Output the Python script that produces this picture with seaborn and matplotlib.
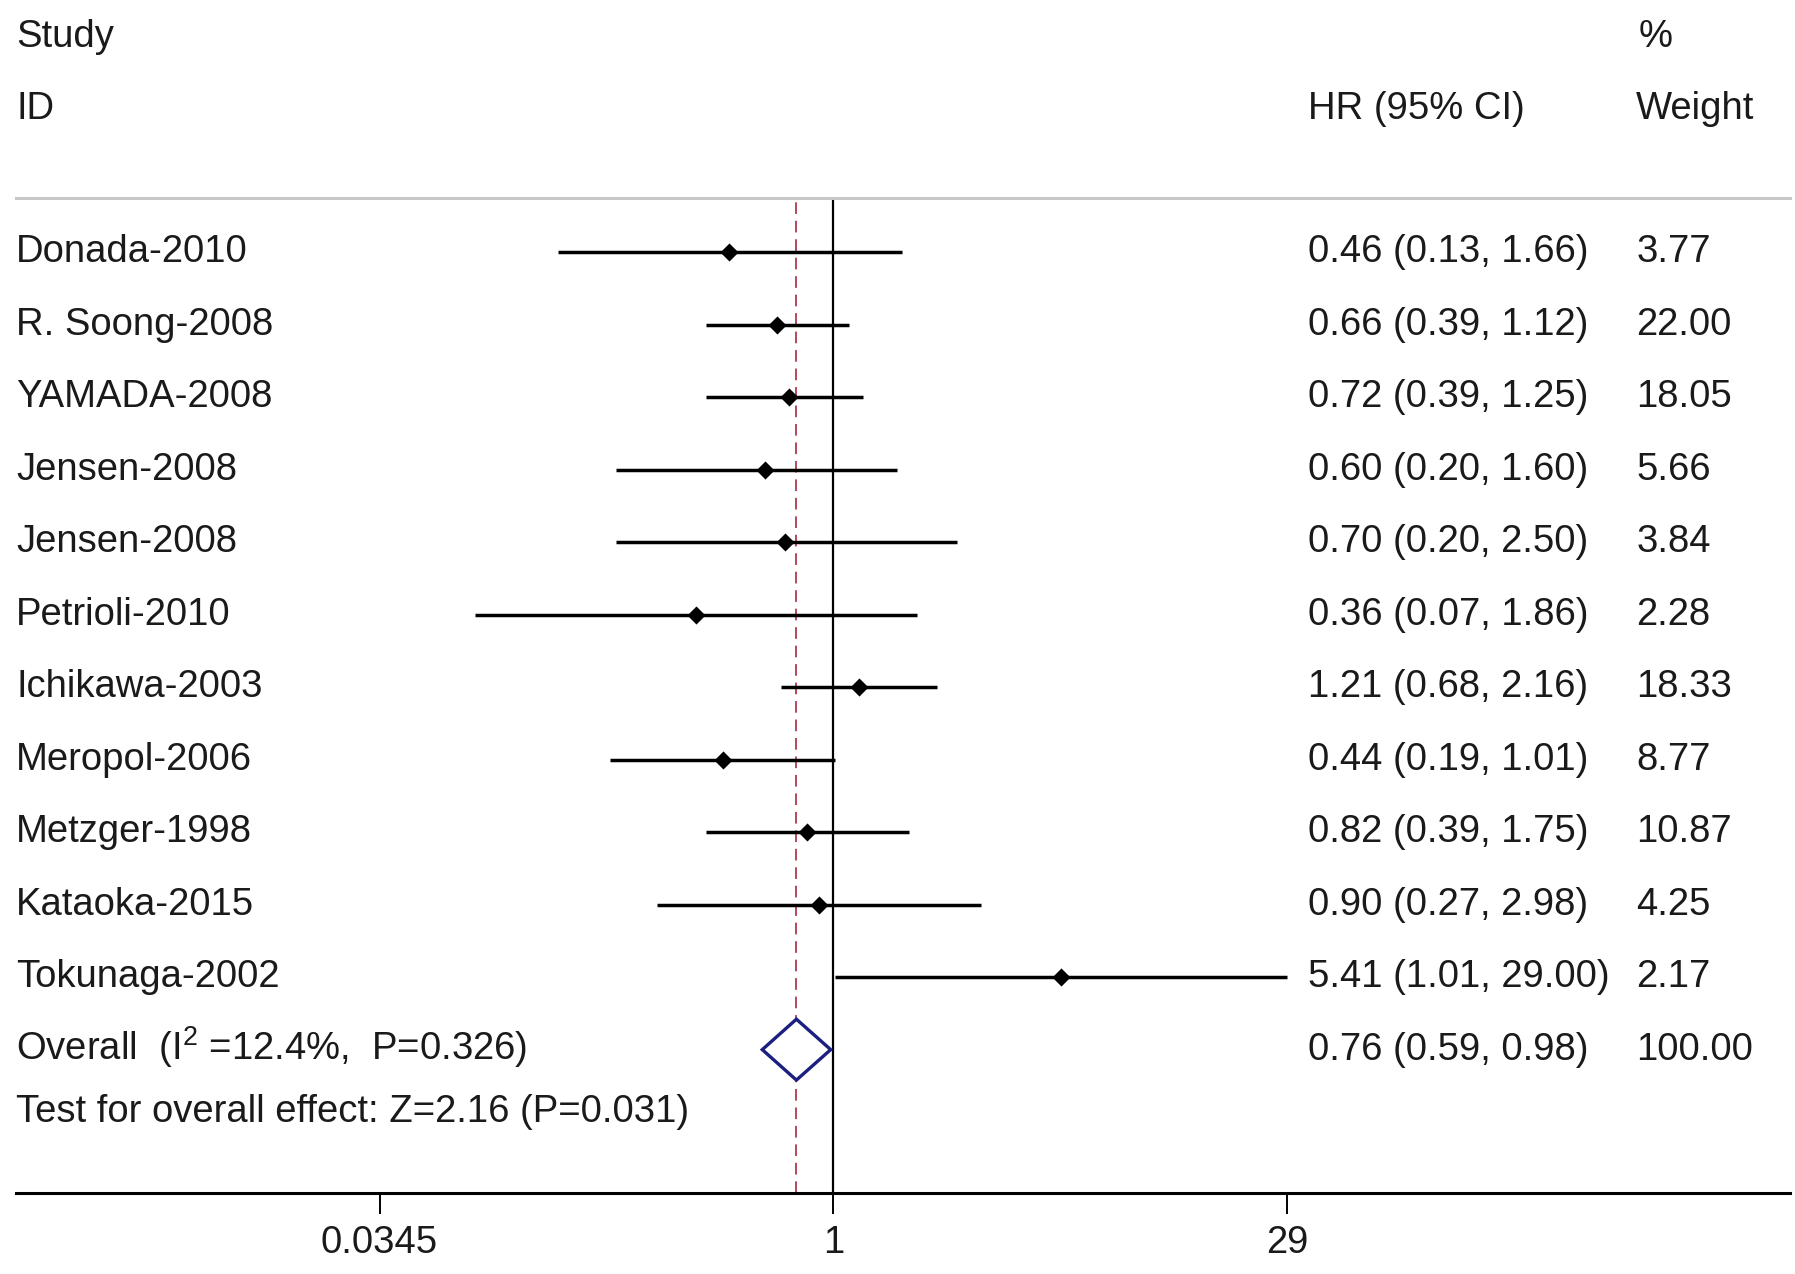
import numpy as np
import pandas as pd
import matplotlib
matplotlib.use("Agg")
import matplotlib.pyplot as plt
import seaborn as sns

# Study-level hazard ratios
studies = ["Donada-2010", "R. Soong-2008", "YAMADA-2008", "Jensen-2008", "Jensen-2008",
           "Petrioli-2010", "Ichikawa-2003", "Meropol-2006", "Metzger-1998",
           "Kataoka-2015", "Tokunaga-2002"]
hr = [0.46, 0.66, 0.72, 0.60, 0.70, 0.36, 1.21, 0.44, 0.82, 0.90, 5.41]
ci_low = [0.13, 0.39, 0.39, 0.20, 0.20, 0.07, 0.68, 0.19, 0.39, 0.27, 1.01]
ci_high = [1.66, 1.12, 1.25, 1.60, 2.50, 1.86, 2.16, 1.01, 1.75, 2.98, 29.00]
weights = ["3.77", "22.00", "18.05", "5.66", "3.84", "2.28", "18.33", "8.77",
           "10.87", "4.25", "2.17"]

# Pooled estimate
overall_hr = 0.76
overall_low = 0.59
overall_high = 0.98
overall_weight = "100.00"
overall_label = r"Overall  (I$^{2}$ =12.4%,  P=0.326)"
test_label = "Test for overall effect: Z=2.16 (P=0.031)"

tick_values = [0.0345, 1, 29]
tick_labels = ["0.0345", "1", "29"]

df = pd.DataFrame({"study": studies, "hr": hr, "low": ci_low, "high": ci_high,
                   "weight": weights})
df["row"] = np.arange(1, len(df) + 1)
overall_row = len(df) + 1

sns.set_theme(style="white")
plt.rcParams["font.family"] = ["Liberation Sans", "DejaVu Sans"]
plt.rcParams["mathtext.fontset"] = "custom"
plt.rcParams["mathtext.rm"] = "Liberation Sans"
plt.rcParams["mathtext.it"] = "Liberation Sans"
plt.rcParams["mathtext.default"] = "rm"
txt_color = "#1a1a1a"
fs = 27.5

fig = plt.figure(figsize=(17.95, 12.74), dpi=100)
ax = fig.add_axes([0.009, 0.0632, 0.988, 0.7814])
ax.set_xscale("log")
ax.set_xlim(0.00233, 1203)
ax.set_ylim(13.984, 0.254)

# confidence intervals
ax.hlines(df["row"], df["low"], df["high"], color="black", lw=2.5, zorder=2)
sns.scatterplot(data=df, x="hr", y="row", marker="D", color="black", s=85,
                edgecolor="black", linewidth=0, ax=ax, zorder=3, legend=False)

# reference lines
ax.axvline(1, color="black", lw=1.6, zorder=1)
ax.axvline(overall_hr, color="#b5485a", lw=1.4, ls=(0, (6, 3.5)), zorder=1)

# pooled diamond
dx = [overall_low, overall_hr, overall_high, overall_hr, overall_low]
dy = [overall_row, overall_row - 0.42, overall_row, overall_row + 0.42, overall_row]
ax.fill(dx, dy, facecolor="white", edgecolor="#1a1f80", lw=2.4, zorder=4)

# text columns
tr = ax.get_yaxis_transform()
x_name, x_hr, x_wt = 0.0, 0.7285, 0.9135
for _, r in df.iterrows():
    ax.text(x_name, r["row"], r["study"], transform=tr, fontsize=fs, va="center",
            color=txt_color)
    ax.text(x_hr, r["row"], f"{r['hr']:.2f} ({r['low']:.2f}, {r['high']:.2f})",
            transform=tr, fontsize=fs, va="center", color=txt_color)
    ax.text(x_wt, r["row"], r["weight"], transform=tr, fontsize=fs,
            va="center", color=txt_color)

# mathtext label: anchor on the baseline so it lines up with its neighbours
ax.text(x_name, overall_row + 0.14, overall_label, transform=tr, fontsize=fs,
        va="baseline", color=txt_color)
ax.text(x_hr, overall_row, f"{overall_hr:.2f} ({overall_low:.2f}, {overall_high:.2f})",
        transform=tr, fontsize=fs, va="center", color=txt_color)
ax.text(x_wt, overall_row, overall_weight, transform=tr, fontsize=fs,
        va="center", color=txt_color)
ax.text(x_name, overall_row + 0.857, test_label, transform=tr, fontsize=fs,
        va="center", color=txt_color)

# header
ax.text(x_name, -1.968, "Study", transform=tr, fontsize=fs, va="center", color=txt_color)
ax.text(x_name, -0.968, "ID", transform=tr, fontsize=fs, va="center", color=txt_color)
ax.text(x_hr, -0.968, "HR (95% CI)", transform=tr, fontsize=fs, va="center", color=txt_color)
ax.text(0.9148, -1.968, "%", transform=tr, fontsize=fs, va="center", color=txt_color)
ax.text(x_wt, -0.968, "Weight", transform=tr, fontsize=fs, va="center", color=txt_color)

# axes styling
ax.set_yticks([])
ax.set_xticks(tick_values)
ax.set_xticklabels(tick_labels)
ax.xaxis.set_minor_locator(matplotlib.ticker.NullLocator())
ax.tick_params(axis="x", direction="out", length=15, width=1.4, color="black",
               labelsize=fs, labelcolor=txt_color, pad=8, bottom=True)
ax.set_xlabel("")
ax.set_ylabel("")
for side in ["left", "right"]:
    ax.spines[side].set_visible(False)
ax.spines["top"].set_color("#c8c8c8")
ax.spines["top"].set_linewidth(2.2)
ax.spines["bottom"].set_color("black")
ax.spines["bottom"].set_linewidth(2.2)

fig.savefig("out.png", dpi=100)
